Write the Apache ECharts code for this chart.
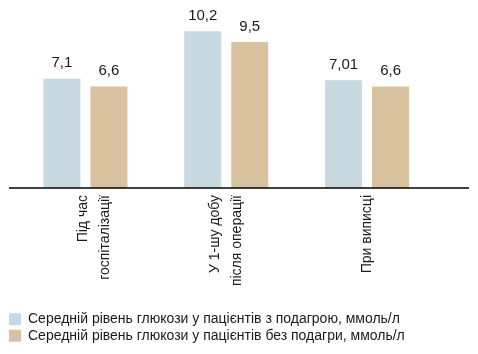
<!DOCTYPE html>
<html>
<head>
<meta charset="utf-8">
<script src="https://cdn.jsdelivr.net/npm/echarts@6/dist/echarts.min.js"></script>
<style>
html,body{margin:0;padding:0;background:#fff;}
#c{width:478px;height:354px;}
</style>
</head>
<body>
<div id="c"></div>
<script>
const categories = ['Під час\nгоспіталізації', 'У 1-шу добу\nпісля операції', 'При виписці'];
const withGout = [7.1, 10.2, 7.01];
const withoutGout = [6.6, 9.5, 6.6];
const valueLabelsWith = ['7,1', '10,2', '7,01'];
const valueLabelsWithout = ['6,6', '9,5', '6,6'];
const seriesNames = ['Середній рівень глюкози у пацієнтів з подагрою, ммоль/л', 'Середній рівень глюкози у пацієнтів без подагри, ммоль/л'];

const FONT = 'Liberation Sans';
const chart = echarts.init(document.getElementById('c'), null, {renderer: 'canvas'});
chart.setOption({
  animation: false,
  textStyle: {fontFamily: FONT},
  grid: {left: 15, right: 40.5, top: 3.5, bottom: 166, containLabel: false},
  xAxis: {
    type: 'category',
    data: categories,
    axisTick: {show: false},
    axisLine: {show: false},
    axisLabel: {
      rotate: 90, margin: 7, fontSize: 14, lineHeight: 22, color: '#1a1a1a', fontFamily: FONT,
      formatter: (v, i) => i === 0 ? '{g| }\n' + v : v,
      rich: {g: {height: 17, fontSize: 1, lineHeight: 17}}
    }
  },
  yAxis: {type: 'value', min: 0, max: 12, show: false, splitLine: {show: false}},
  legend: {
    orient: 'vertical', left: 9, top: 311, height: 43, padding: 0, itemWidth: 12, itemHeight: 12, itemGap: 0,
    icon: 'rect',
    textStyle: {fontSize: 14, lineHeight: 16.5, color: '#1a1a1a', fontFamily: FONT, padding: [0, 0, 0, 2]},
    data: seriesNames
  },
  graphic: [{
    type: 'line', shape: {x1: 9, y1: 188, x2: 469, y2: 188}, style: {stroke: '#000', lineWidth: 1.5}, z: 10
  }],
  series: [
    {
      name: seriesNames[0], type: 'bar', data: withGout, barWidth: 37, barGap: '27%',
      itemStyle: {color: '#c8d9e2'},
      label: {show: true, position: 'top', distance: 8, fontSize: 15, color: '#1a1a1a', fontFamily: FONT,
        formatter: p => valueLabelsWith[p.dataIndex]}
    },
    {
      name: seriesNames[1], type: 'bar', data: withoutGout, barWidth: 37, barGap: '27%',
      itemStyle: {color: '#d9c2a0'},
      label: {show: true, position: 'top', distance: 8, fontSize: 15, color: '#1a1a1a', fontFamily: FONT,
        formatter: p => valueLabelsWithout[p.dataIndex]}
    }
  ]
});
</script>
</body>
</html>
